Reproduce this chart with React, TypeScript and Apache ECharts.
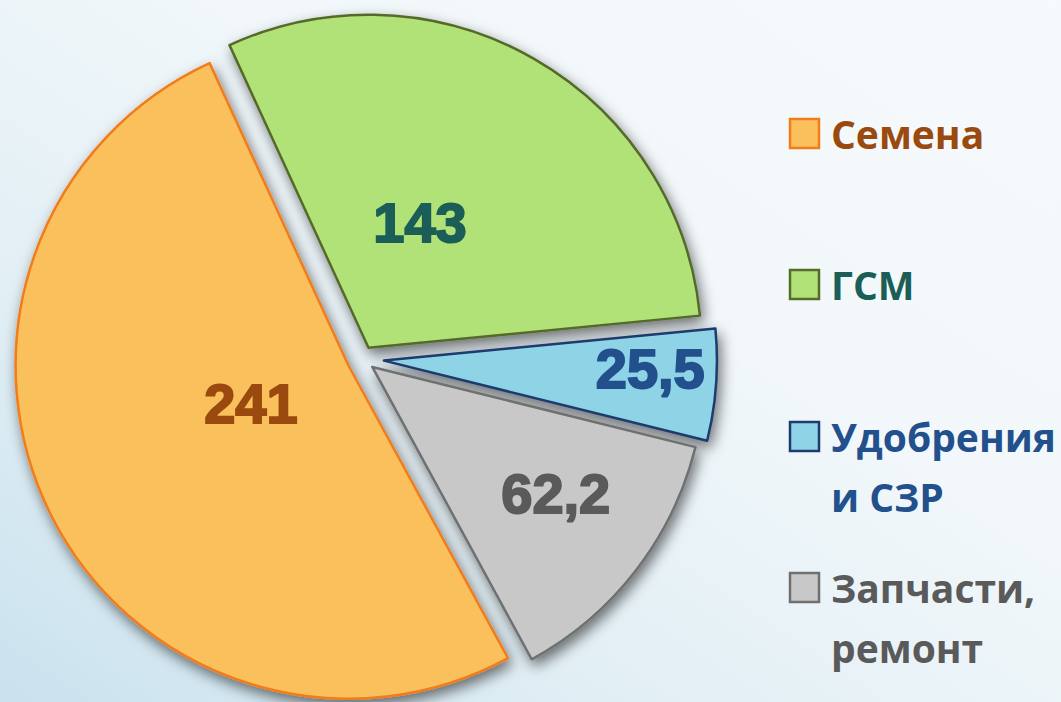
import React, { useEffect, useRef } from "react";
import * as echarts from "echarts";

// ---- data ----
const categories = ["Семена", "ГСМ", "Удобрения и СЗР", "Запчасти, ремонт"];
const values = [241, 143, 25.5, 62.2];
const valueLabels = ["241", "143", "25,5", "62,2"];
const legendLines = [["Семена"], ["ГСМ"], ["Удобрения", "и СЗР"], ["Запчасти,", "ремонт"]];

// ---- styles ----
const fillColors = ["#FAC05C", "#B0E277", "#8FD3E6", "#C8C8C8"];
const borderColors = ["#F07C1C", "#556B2A", "#1F3A6E", "#6F6F6F"];
const textColors = ["#9A4A0E", "#1B5E57", "#22508C", "#5A5A5A"];

const CENTER = [362, 359];
const R = 333;
const START_DEG = 151.4; // clockwise from 12 o'clock
const explode = [15, 13, 22, 13];
const labelRadius = [0.315, 0.408, 0.8, 0.669];
const labelShift = [5.3, -7.6, -2.6, -3.1];
const legendY = [133, 284, 436, 587];
const LEGEND_X = 790;
const LEGEND_LINE = 60;

const dir = (deg: number) => [Math.sin((deg * Math.PI) / 180), -Math.cos((deg * Math.PI) / 180)];

export default function App() {
  const ref = useRef<HTMLDivElement>(null);

  useEffect(() => {
    document.body.style.margin = "0";
    if (!ref.current) return;
    const chart = echarts.init(ref.current, undefined, { renderer: "svg" });

    const total = values.reduce((a, b) => a + b, 0);
    let acc = START_DEG;
    const slices = values.map((v) => {
      const span = (v / total) * 360;
      const s = acc;
      acc += span;
      return { start: s, mid: s + span / 2 };
    });

    const series = categories.map((_, i) => {
      const d = dir(slices[i].mid);
      const cx = CENTER[0] + explode[i] * d[0];
      const cy = CENTER[1] + explode[i] * d[1];
      const ld = dir(slices[i].mid + labelShift[i]);
      const lx = cx + labelRadius[i] * R * ld[0];
      const ly = cy + labelRadius[i] * R * ld[1];
      return {
        type: "pie",
        center: [cx, cy],
        radius: R,
        startAngle: 90 - START_DEG,
        clockwise: true,
        silent: true,
        avoidLabelOverlap: false,
        emphasis: { disabled: true },
        labelLine: { show: false },
        z: 2,
        data: categories.map((name, j) => ({
          name,
          value: values[j],
          itemStyle:
            j === i
              ? {
                  color: fillColors[j],
                  borderColor: borderColors[j],
                  borderWidth: 2.5,
                  shadowBlur: 14,
                  shadowColor: "rgba(0,0,0,0.55)",
                  shadowOffsetX: 3,
                  shadowOffsetY: 6,
                }
              : { color: "rgba(0,0,0,0)", borderWidth: 0 },
          label:
            j === i
              ? {
                  show: true,
                  position: "inside",
                  formatter: valueLabels[j],
                  fontFamily: "Liberation Sans",
                  fontWeight: "bold",
                  fontSize: 56,
                  color: textColors[j],
                  textBorderColor: textColors[j],
                  textBorderWidth: 2,
                }
              : { show: false },
        })),
        labelLayout: (p: any) =>
          p.dataIndex === i ? { x: lx, y: ly, align: "center", verticalAlign: "middle" } : {},
      };
    });

    const graphic: any[] = [];
    categories.forEach((_, i) => {
      graphic.push({
        type: "rect",
        shape: { x: LEGEND_X, y: legendY[i] - 14, width: 29, height: 29 },
        style: { fill: fillColors[i], stroke: borderColors[i], lineWidth: 2.5 },
        z: 10,
      });
      legendLines[i].forEach((line, k) => {
        graphic.push({
          type: "text",
          x: LEGEND_X + 41,
          y: legendY[i] + k * LEGEND_LINE,
          style: {
            text: line,
            fill: textColors[i],
            font: 'bold 39px "Open Sans"',
            textAlign: "left",
            textVerticalAlign: "middle",
          },
          z: 10,
        });
      });
    });

    chart.setOption({
      animation: false,
      backgroundColor: {
        type: "linear",
        x: 0,
        y: 1,
        x2: 1,
        y2: 0,
        colorStops: [
          { offset: 0, color: "#c9e2ee" },
          { offset: 0.3, color: "#e2eff5" },
          { offset: 0.6, color: "#f1f7fa" },
          { offset: 1, color: "#f7fafc" },
        ],
      },
      series,
      graphic,
    });

    return () => chart.dispose();
  }, []);

  return <div ref={ref} style={{ width: 1061, height: 702 }} />;
}
